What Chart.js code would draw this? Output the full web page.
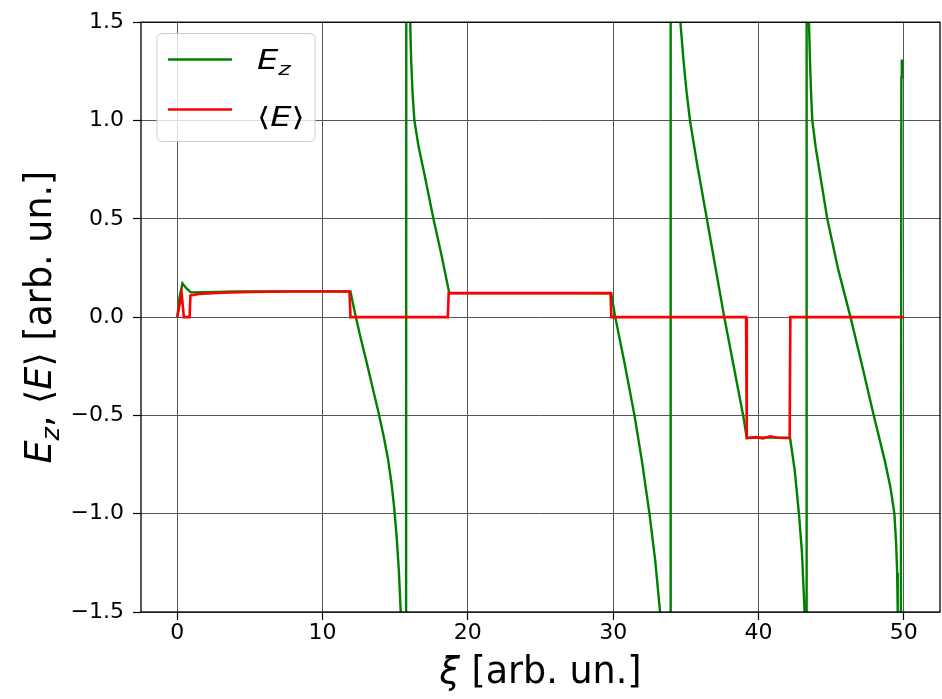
<!DOCTYPE html>
<html>
<head>
<meta charset="utf-8">
<script src="https://cdn.jsdelivr.net/npm/chart.js@4.4.0/dist/chart.umd.min.js"></script>
<style>
  html, body { margin: 0; padding: 0; background: #fff; }
  #wrap { width: 942px; height: 699px; }
</style>
</head>
<body>
<div id="wrap"><canvas id="fieldChart" width="942" height="699"></canvas></div>
<script>
// E_z (green)
const ezX = [0, 0.15, 0.35, 0.6, 0.93, 2, 4, 6, 8, 10, 11.92,
  12.2, 12.6, 13.0, 13.4, 13.85, 14.2, 14.5, 14.75, 14.93, 15.1, 15.25, 15.38, 15.5, 15.62, 15.74,
  15.77, 15.9, 16.03, 16.1, 16.2, 16.32, 16.6, 17.0, 17.63, 18.2, 18.72,
  22, 26, 29.87,
  30.12, 30.8, 31.47, 32.0, 32.5, 32.9, 33.23, 33.55, 33.92,
  33.96, 34.3, 34.63, 34.85, 35.05, 35.29, 35.8, 36.45, 37.05, 37.65, 38.3, 38.95, 39.2,
  40.5, 42.18,
  42.5, 42.79, 43.0, 43.18, 43.25, 43.29,
  43.32, 43.4, 43.48, 43.56, 43.63, 43.71, 43.95, 44.3, 44.74, 45.5, 46.34, 47.15, 47.94, 48.7, 49.1, 49.36,
  49.48, 49.55, 49.59, 49.66, 49.78,
  49.84, 49.87];
const ezY = [0, 0.10, 0.172, 0.148, 0.126, 0.127, 0.13, 0.131, 0.131, 0.131, 0.13,
  0.03, -0.1, -0.22, -0.345, -0.485, -0.605, -0.72, -0.85, -0.97, -1.12, -1.29, -1.5, -1.75, -2.2, -4.0,
  4.0, 2.3, 1.5, 1.3, 1.13, 1.0, 0.87, 0.73, 0.5, 0.31, 0.122,
  0.122, 0.122, 0.121,
  0.01, -0.24, -0.5, -0.74, -1.0, -1.24, -1.5, -2.2, -4.0,
  4.0, 2.3, 1.5, 1.3, 1.15, 1.0, 0.77, 0.5, 0.25, 0, -0.25, -0.5, -0.615,
  -0.612, -0.615,
  -0.78, -1.0, -1.2, -1.5, -1.75, -4.0,
  4.0, 2.2, 1.5, 1.28, 1.13, 1.0, 0.86, 0.7, 0.5, 0.24, 0, -0.25, -0.5, -0.73, -0.87, -1.0,
  -1.15, -1.3, -1.5, -2.2, -4.0,
  1.22, 1.31];

// <E> (red)
const avgX = [0, 0.3, 0.45, 0.85, 0.9, 1.5, 3, 5, 8, 11.85, 11.92, 18.62, 18.68, 29.82, 29.88,
  39.15, 39.2, 39.8, 40.3, 40.8, 41.3, 42.15, 42.2, 50];
const avgY = [0, 0.12, 0, 0, 0.11, 0.118, 0.124, 0.128, 0.13, 0.13, 0, 0, 0.122, 0.122, 0,
  0, -0.615, -0.61, -0.617, -0.606, -0.614, -0.615, 0, 0];

const xTicks = [0, 10, 20, 30, 40, 50];
const yTicks = [-1.5, -1.0, -0.5, 0, 0.5, 1.0, 1.5];
const xRange = [-2.5, 52.5];
const yRange = [-1.5, 1.5];

const FONT = "'DejaVu Sans', sans-serif";
const GREEN = "#008000";
const RED = "#ff0000";

function toPoints(xs, ys) {
  return xs.map((x, i) => ({ x: x, y: ys[i] }));
}

// text pieces (italic / subscript) drawn one after another, sx = horizontal stretch
function richWidth(ctx, parts, size, sx) {
  let w = 0;
  parts.forEach((p) => {
    const s = p.sub ? size * 0.7 : size;
    ctx.font = (p.it ? "oblique " : "") + s + "px " + FONT;
    w += ctx.measureText(p.t).width;
  });
  return w * (sx || 1);
}
function drawRich(ctx, parts, x, y, size, sx) {
  sx = sx || 1;
  ctx.save();
  ctx.translate(x, y);
  ctx.scale(sx, 1);
  let cx = 0;
  parts.forEach((p) => {
    const s = p.sub ? size * 0.7 : size;
    ctx.font = (p.it ? "oblique " : "") + s + "px " + FONT;
    ctx.fillText(p.t, cx, p.sub ? size * 0.22 : 0);
    cx += ctx.measureText(p.t).width;
  });
  ctx.restore();
}

const yTitle = [
  { t: "E", it: true }, { t: "z", it: true, sub: true }, { t: ", \u27e8" },
  { t: "E", it: true }, { t: "\u27e9 [arb. un.]" }
];
const xTitle = [{ t: "\u03be", it: true }, { t: " [arb. un.]" }];

const decor = {
  id: "decor",
  afterDatasetsDraw(chart) {
    const { ctx, chartArea: a } = chart;
    ctx.save();
    ctx.strokeStyle = "#000";
    ctx.lineWidth = 1.3;
    ctx.strokeRect(a.left, a.top, a.right - a.left, a.bottom - a.top);
    ctx.restore();
  },
  afterDraw(chart) {
    const ctx = chart.ctx;
    const a = chart.chartArea;
    ctx.save();
    ctx.fillStyle = "#000";
    ctx.textBaseline = "alphabetic";

    // x title
    const tsize = 36.5;
    let w = richWidth(ctx, xTitle, tsize);
    drawRich(ctx, xTitle, (a.left + a.right) / 2 - w / 2, 683, tsize);

    // y title (rotated)
    ctx.save();
    ctx.translate(51, (a.top + a.bottom) / 2);
    ctx.rotate(-Math.PI / 2);
    w = richWidth(ctx, yTitle, tsize);
    drawRich(ctx, yTitle, -w / 2, 0, tsize);
    ctx.restore();

    // legend
    ctx.beginPath();
    ctx.roundRect(157, 33.5, 158, 108, 5);
    ctx.fillStyle = "rgba(255,255,255,0.8)";
    ctx.fill();
    ctx.strokeStyle = "#cccccc";
    ctx.lineWidth = 1;
    ctx.stroke();

    ctx.lineWidth = 2.6;
    ctx.strokeStyle = GREEN;
    ctx.beginPath(); ctx.moveTo(168, 59.5); ctx.lineTo(232, 59.5); ctx.stroke();
    ctx.strokeStyle = RED;
    ctx.beginPath(); ctx.moveTo(168, 109.5); ctx.lineTo(232, 109.5); ctx.stroke();

    ctx.fillStyle = "#000";
    drawRich(ctx, [{ t: "E", it: true }, { t: "z", it: true, sub: true }], 257, 69, 26, 1.3);
    drawRich(ctx, [{ t: "\u27e8" }, { t: "E", it: true }, { t: "\u27e9" }], 257, 126, 26, 1.3);
    ctx.restore();
  }
};

new Chart(document.getElementById("fieldChart"), {
  type: "line",
  data: {
    datasets: [
      { label: "<E>", data: toPoints(avgX, avgY), borderColor: RED, borderWidth: 2.6, pointRadius: 0, tension: 0 },
      { label: "E_z", data: toPoints(ezX, ezY), borderColor: GREEN, borderWidth: 2.4, pointRadius: 0, tension: 0 }
    ]
  },
  options: {
    responsive: false,
    animation: false,
    devicePixelRatio: 1,
    parsing: false,
    layout: { padding: { top: 18, right: 2, left: 0, bottom: 0 } },
    plugins: { legend: { display: false }, tooltip: { enabled: false } },
    scales: {
      x: {
        type: "linear",
        min: xRange[0],
        max: xRange[1],
        afterBuildTicks: (s) => { s.ticks = xTicks.map((v) => ({ value: v })); },
        afterFit: (s) => { s.height = 87; },
        grid: { color: "#555", lineWidth: 1, tickLength: 8, tickColor: "#000", tickWidth: 1.2 },
        border: { display: false },
        ticks: {
          autoSkip: false, maxRotation: 0, padding: 0, color: "#000",
          font: { family: FONT, size: 22 },
          callback: (v) => String(v)
        }
      },
      y: {
        type: "linear",
        min: yRange[0],
        max: yRange[1],
        afterBuildTicks: (s) => { s.ticks = yTicks.map((v) => ({ value: v })); },
        afterFit: (s) => { s.width = 141; },
        grid: { color: "#555", lineWidth: 1, tickLength: 8, tickColor: "#000", tickWidth: 1.2 },
        border: { display: false },
        ticks: {
          autoSkip: false, padding: 9, color: "#000",
          font: { family: FONT, size: 22 },
          callback: (v) => (v < 0 ? "\u2212" : "") + Math.abs(v).toFixed(1)
        }
      }
    }
  },
  plugins: [decor]
});
</script>
</body>
</html>
